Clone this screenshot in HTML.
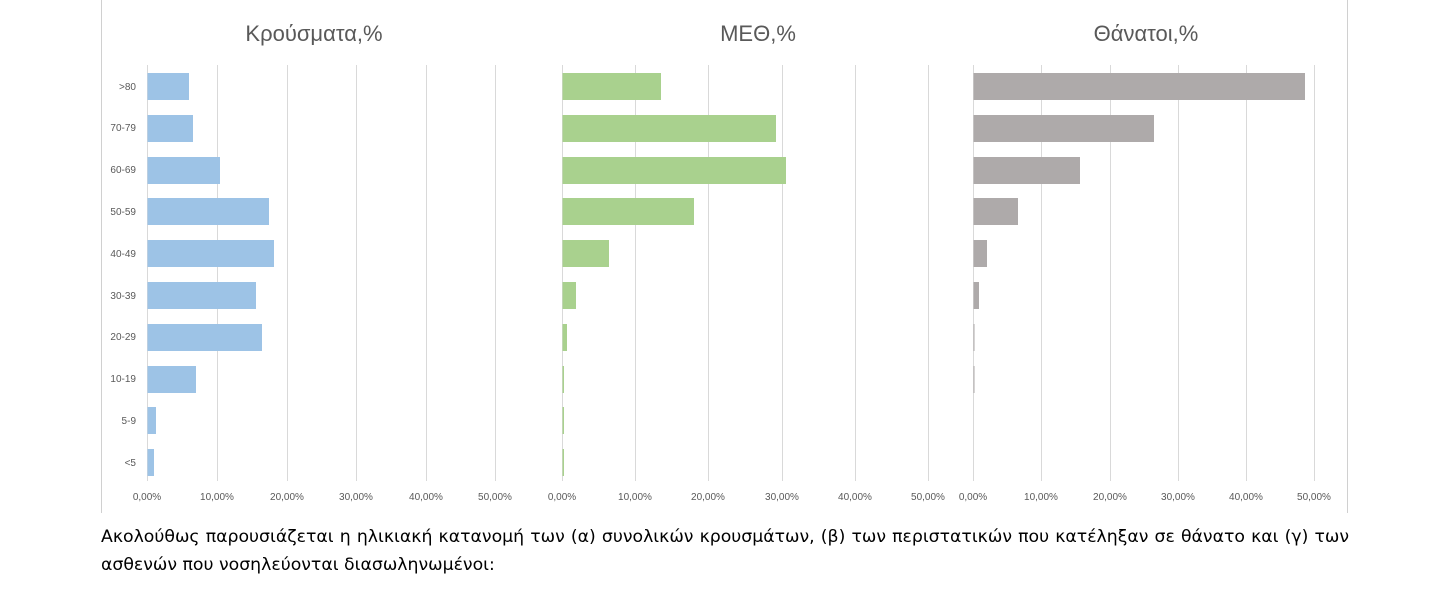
<!DOCTYPE html>
<html><head><meta charset="utf-8"><style>
html,body{margin:0;padding:0;background:#fff;width:1440px;height:604px;overflow:hidden}
svg{position:absolute;left:0;top:0}
.t{font-family:"Liberation Sans","DejaVu Sans",sans-serif;fill:#595959;font-size:22px}
.l{font-family:"Liberation Sans","DejaVu Sans",sans-serif;fill:#595959;font-size:10px}
p{position:absolute;left:101px;margin:0;font-family:"DejaVu Sans","Liberation Sans",sans-serif;font-size:17.3px;color:#000;width:1248px;line-height:28px}
</style></head><body>
<svg width="1440" height="604">
<line x1="101.5" y1="0" x2="101.5" y2="513" stroke="#d0d0d0"/>
<line x1="1347.5" y1="0" x2="1347.5" y2="513" stroke="#d0d0d0"/>
<g stroke="#d9d9d9" stroke-width="1">
<line x1="147.5" y1="65" x2="147.5" y2="481"/><line x1="217.5" y1="65" x2="217.5" y2="481"/><line x1="287.5" y1="65" x2="287.5" y2="481"/><line x1="356.5" y1="65" x2="356.5" y2="481"/><line x1="426.5" y1="65" x2="426.5" y2="481"/><line x1="495.5" y1="65" x2="495.5" y2="481"/>
<line x1="562.5" y1="65" x2="562.5" y2="481"/><line x1="635.5" y1="65" x2="635.5" y2="481"/><line x1="708.5" y1="65" x2="708.5" y2="481"/><line x1="782.5" y1="65" x2="782.5" y2="481"/><line x1="855.5" y1="65" x2="855.5" y2="481"/><line x1="928.5" y1="65" x2="928.5" y2="481"/>
<line x1="973.5" y1="65" x2="973.5" y2="481"/><line x1="1041.5" y1="65" x2="1041.5" y2="481"/><line x1="1110.5" y1="65" x2="1110.5" y2="481"/><line x1="1178.5" y1="65" x2="1178.5" y2="481"/><line x1="1246.5" y1="65" x2="1246.5" y2="481"/><line x1="1314.5" y1="65" x2="1314.5" y2="481"/>
</g>
<text class="t" x="314" y="41" text-anchor="middle">Κρούσματα,%</text>
<text class="t" x="758" y="41" text-anchor="middle">ΜΕΘ,%</text>
<text class="t" x="1146" y="41" text-anchor="middle">Θάνατοι,%</text>
<g class="l" text-anchor="end">
<text x="136" y="90">&gt;80</text><text x="136" y="131">70-79</text><text x="136" y="173">60-69</text><text x="136" y="215">50-59</text><text x="136" y="257">40-49</text><text x="136" y="299">30-39</text><text x="136" y="340">20-29</text><text x="136" y="382">10-19</text><text x="136" y="424">5-9</text><text x="136" y="466">&lt;5</text>
</g>
<g fill="#9dc3e6">
<rect x="147.5" y="73" width="41.5" height="27"/><rect x="147.5" y="115" width="45.5" height="27"/><rect x="147.5" y="157" width="72.5" height="27"/><rect x="147.5" y="198" width="121.5" height="27"/><rect x="147.5" y="240" width="126.5" height="27"/><rect x="147.5" y="282" width="108.5" height="27"/><rect x="147.5" y="324" width="114.5" height="27"/><rect x="147.5" y="366" width="48.5" height="27"/><rect x="147.5" y="407" width="8.5" height="27"/><rect x="147.5" y="449" width="6.5" height="27"/>
</g>
<g fill="#a9d18e">
<rect x="562.5" y="73" width="98.5" height="27"/><rect x="562.5" y="115" width="213.5" height="27"/><rect x="562.5" y="157" width="223.5" height="27"/><rect x="562.5" y="198" width="131.5" height="27"/><rect x="562.5" y="240" width="46.5" height="27"/><rect x="562.5" y="282" width="13.5" height="27"/><rect x="562.5" y="324" width="4.5" height="27"/><rect x="562.5" y="366" width="1.5" height="27"/><rect x="562.5" y="407" width="1.5" height="27"/><rect x="562.5" y="449" width="1.5" height="27"/>
</g>
<g fill="#aeaaaa">
<rect x="973.5" y="73" width="331.5" height="27"/><rect x="973.5" y="115" width="180.5" height="27"/><rect x="973.5" y="157" width="106.5" height="27"/><rect x="973.5" y="198" width="44.5" height="27"/><rect x="973.5" y="240" width="13.5" height="27"/><rect x="973.5" y="282" width="5.5" height="27"/><rect x="973.5" y="324" width="1" height="27"/><rect x="973.5" y="366" width="1" height="27"/>
</g>
<g class="l" text-anchor="middle">
<text x="147" y="500">0,00%</text><text x="217" y="500">10,00%</text><text x="287" y="500">20,00%</text><text x="356" y="500">30,00%</text><text x="426" y="500">40,00%</text><text x="495" y="500">50,00%</text>
<text x="562" y="500">0,00%</text><text x="635" y="500">10,00%</text><text x="708" y="500">20,00%</text><text x="782" y="500">30,00%</text><text x="855" y="500">40,00%</text><text x="928" y="500">50,00%</text>
<text x="973" y="500">0,00%</text><text x="1041" y="500">10,00%</text><text x="1110" y="500">20,00%</text><text x="1178" y="500">30,00%</text><text x="1246" y="500">40,00%</text><text x="1314" y="500">50,00%</text>
</g>
</svg>
<p style="top:523px;text-align:justify;text-align-last:justify">Ακολούθως παρουσιάζεται η ηλικιακή κατανομή των (α) συνολικών κρουσμάτων, (β) των περιστατικών που κατέληξαν σε θάνατο και (γ) των</p>
<p style="top:551px">ασθενών που νοσηλεύονται διασωληνωμένοι:</p>
</body></html>
